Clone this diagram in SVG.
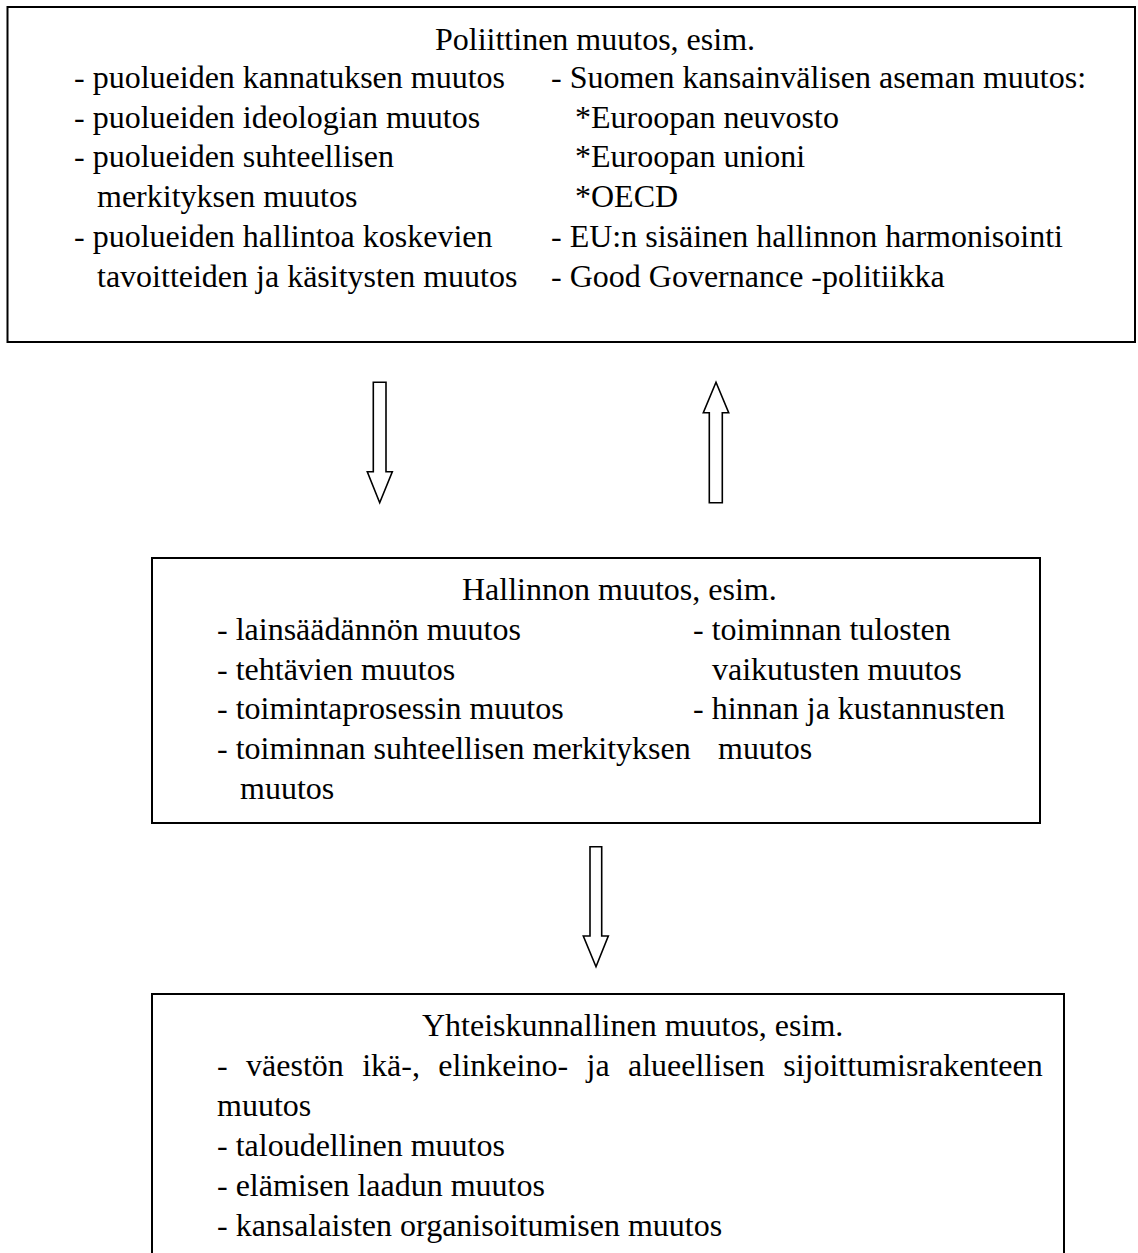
<svg xmlns="http://www.w3.org/2000/svg" width="1138" height="1253" viewBox="0 0 1138 1253">
<style>
.box{fill:#fff;stroke:#000;stroke-width:2}
.arr{fill:#fff;stroke:#000;stroke-width:1.6;stroke-linejoin:miter}
text{font-family:"Liberation Serif","Times New Roman",serif;font-size:32px;fill:#000}
</style>
<rect width="1138" height="1253" fill="#fff"/>
<g id="connectors">
<polygon class="arr" points="373.3,382.3 386,382.3 386,471.7 392.3,471.7 379.7,502.7 367.3,471.7 373.3,471.7"/>
<polygon class="arr" points="709.3,502.7 722.3,502.7 722.3,412.7 728.7,412.7 716,382.3 703.3,412.7 709.3,412.7"/>
<polygon class="arr" points="590,846.7 601.7,846.7 601.7,936 608.3,936 596,966.7 583.3,936 590,936"/>
</g>
<g id="node-poliittinen">
<rect class="box" x="7.5" y="7" width="1127.5" height="335"/>
<text x="435" y="50">Poliittinen muutos, esim.</text>
<text x="74" y="88">- puolueiden kannatuksen muutos</text>
<text x="74" y="128">- puolueiden ideologian muutos</text>
<text x="74" y="167">- puolueiden suhteellisen</text>
<text x="97" y="207">merkityksen muutos</text>
<text x="74" y="247">- puolueiden hallintoa koskevien</text>
<text x="97" y="287">tavoitteiden ja käsitysten muutos</text>
<text x="551" y="88">- Suomen kansainvälisen aseman muutos:</text>
<text x="575" y="128">*Euroopan neuvosto</text>
<text x="575" y="167">*Euroopan unioni</text>
<text x="575" y="207">*OECD</text>
<text x="551" y="247">- EU:n sisäinen hallinnon harmonisointi</text>
<text x="551" y="287">- Good Governance -politiikka</text>
</g>
<g id="node-hallinnon">
<rect class="box" x="152" y="558" width="888" height="265"/>
<text x="462" y="600">Hallinnon muutos, esim.</text>
<text x="217" y="640">- lainsäädännön muutos</text>
<text x="217" y="680">- tehtävien muutos</text>
<text x="217" y="719">- toimintaprosessin muutos</text>
<text x="217" y="759">- toiminnan suhteellisen merkityksen</text>
<text x="240" y="799">muutos</text>
<text x="693" y="640">- toiminnan tulosten</text>
<text x="712" y="680">vaikutusten muutos</text>
<text x="693" y="719">- hinnan ja kustannusten</text>
<text x="718" y="759">muutos</text>
</g>
<g id="node-yhteiskunnallinen">
<path class="box" d="M152,1260 V994 H1064 V1260"/>
<text x="422" y="1036">Yhteiskunnallinen muutos, esim.</text>
<text x="217" y="1076" word-spacing="10.4">- väestön ikä-, elinkeino- ja alueellisen sijoittumisrakenteen</text>
<text x="217" y="1116">muutos</text>
<text x="217" y="1156">- taloudellinen muutos</text>
<text x="217" y="1196">- elämisen laadun muutos</text>
<text x="217" y="1236">- kansalaisten organisoitumisen muutos</text>
</g>
</svg>
